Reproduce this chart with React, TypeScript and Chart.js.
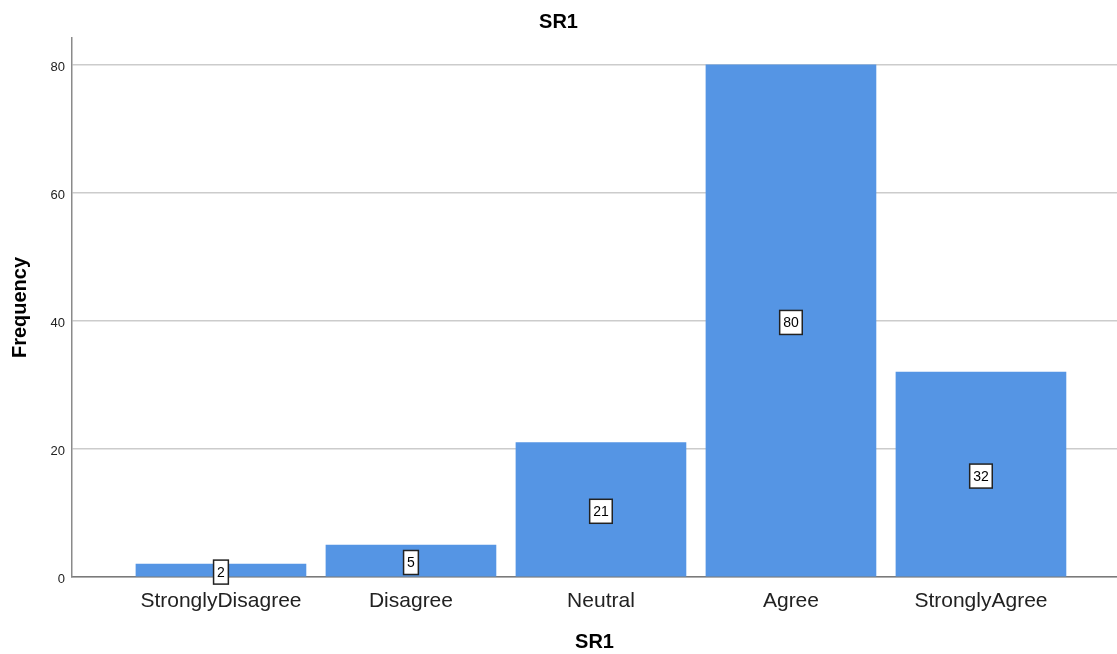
import React, { useEffect, useRef } from "react";
import { Chart, registerables } from "chart.js";

Chart.register(...registerables);

const categories = ["StronglyDisagree", "Disagree", "Neutral", "Agree", "StronglyAgree"];
const frequencies = [2, 5, 21, 80, 32];
const yTicks = [0, 20, 40, 60, 80];
const chartTitle = "SR1";
const xTitle = "SR1";
const yTitle = "Frequency";

const FONT = "'Liberation Sans', Arial, sans-serif";

const valueLabels = {
  id: "valueLabels",
  afterDatasetsDraw(chart: any) {
    const { ctx, scales } = chart;
    const xs = scales.x;
    const ys = scales.y;
    ctx.save();
    ctx.font = `14px ${FONT}`;
    ctx.textAlign = "center";
    ctx.textBaseline = "middle";
    frequencies.forEach((v, i) => {
      const cx = xs.getPixelForValue(i);
      const cy = ys.getPixelForValue(v / 2) + 1.5;
      const text = String(v);
      const w = ctx.measureText(text).width + 7;
      const h = 24;
      ctx.fillStyle = "#ffffff";
      ctx.fillRect(cx - w / 2, cy - h / 2, w, h);
      ctx.strokeStyle = "#222222";
      ctx.lineWidth = 1.5;
      ctx.strokeRect(cx - w / 2, cy - h / 2, w, h);
      ctx.fillStyle = "#000000";
      ctx.fillText(text, cx, cy + 1);
    });
    ctx.restore();
  },
};

export default function App() {
  const ref = useRef<HTMLCanvasElement | null>(null);
  useEffect(() => {
    document.body.style.margin = "0";
    const canvas = ref.current;
    if (!canvas) return;
    const chart = new Chart(canvas, {
      type: "bar",
      data: {
        datasets: [
          {
            data: frequencies.map((v, i) => ({ x: i, y: v })),
            backgroundColor: "#5595e4",
            borderWidth: 0,
            barThickness: 170,
          },
        ],
      },
      options: {
        animation: false,
        responsive: false,
        maintainAspectRatio: false,
        layout: { padding: 0 },
        plugins: {
          legend: { display: false },
          tooltip: { enabled: false },
          title: {
            display: true,
            text: chartTitle,
            color: "#000000",
            font: { family: FONT, size: 20, weight: "bold" },
            padding: { top: 10, bottom: 4 },
          },
        },
        scales: {
          x: {
            type: "linear",
            offset: false,
            min: -0.784,
            max: 4.716,
            afterBuildTicks: (scale: any) => {
              scale.ticks = categories.map((_, i) => ({ value: i }));
            },
            afterFit: (scale: any) => {
              scale.height = 77;
            },
            ticks: {
              autoSkip: false,
              maxRotation: 0,
              padding: 12,
              color: "#222222",
              font: { family: FONT, size: 21 },
              callback: (value: any) => categories[Math.round(Number(value))] ?? "",
            },
            grid: { display: false, drawTicks: false, offset: false },
            border: { display: true, color: "#7a7a7a", width: 1.5 },
            title: {
              display: true,
              text: xTitle,
              color: "#000000",
              font: { family: FONT, size: 20, weight: "bold" },
              padding: { top: 0, bottom: 0 },
            },
          },
          y: {
            type: "linear",
            min: 0,
            max: 84.2,
            afterBuildTicks: (scale: any) => {
              scale.ticks = yTicks.map((v) => ({ value: v }));
            },
            afterFit: (scale: any) => {
              scale.width = 72;
            },
            ticks: {
              padding: 7,
              labelOffset: 2.5,
              color: "#222222",
              font: { family: FONT, size: 13 },
            },
            grid: { color: "#cccccc", lineWidth: 1.5, drawTicks: false },
            border: { display: true, color: "#8a8a8a", width: 1.5 },
            title: {
              display: true,
              text: yTitle,
              color: "#000000",
              font: { family: FONT, size: 20, weight: "bold" },
              padding: { top: 8, bottom: 0 },
            },
          },
        },
      },
      plugins: [valueLabels],
    });
    return () => chart.destroy();
  }, []);
  return (
    <div style={{ width: 1117, height: 654 }}>
      <canvas ref={ref} width={1117} height={654} style={{ display: "block" }} />
    </div>
  );
}
